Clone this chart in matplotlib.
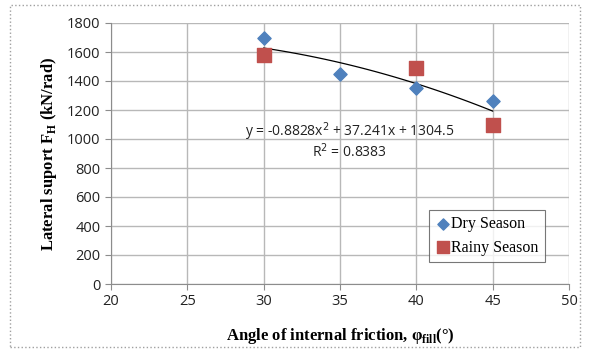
import numpy as np
import matplotlib.pyplot as plt
from matplotlib.patches import Rectangle

# data
dry_x = [30, 35, 40, 45]
dry_y = [1700, 1450, 1350, 1260]
rainy_x = [30, 40, 45]
rainy_y = [1580, 1490, 1100]
trend_coef = [-0.8828, 37.241, 1304.5]  # poly. trendline shown on the chart
trend_range = [30, 45]

x_ticks = [20, 25, 30, 35, 40, 45, 50]
y_ticks = [0, 200, 400, 600, 800, 1000, 1200, 1400, 1600, 1800]

fig = plt.figure(figsize=(5.93, 3.52), dpi=100)
ax = fig.add_axes([111 / 593, 1 - 284 / 352, (569 - 111) / 593, (284 - 23) / 352])

xs = np.linspace(trend_range[0], trend_range[1], 100)
ax.plot(xs, np.polyval(trend_coef, xs), color="black", lw=0.9, zorder=2)
ax.scatter(dry_x, dry_y, marker="D", s=45, color="#4f81bd", label="Dry Season", zorder=3)
ax.scatter(rainy_x, rainy_y, marker="s", s=110, color="#c0504d", label="Rainy Season", zorder=3)

ax.set_xlim(20, 50)
ax.set_ylim(0, 1800)
ax.set_xticks(x_ticks)
ax.set_yticks(y_ticks)
ax.grid(True, color="#b8b8b8", lw=1)
ax.set_axisbelow(True)
for side in ["top", "right"]:
    ax.spines[side].set_visible(False)
for side in ["left", "bottom"]:
    ax.spines[side].set_color("#8c8c8c")
ax.tick_params(colors="#8c8c8c", labelcolor="#222222", labelsize=10.5, length=4)
for lab in ax.get_xticklabels() + ax.get_yticklabels():
    lab.set_family("Open Sans")

ax.text(35.65, 1050, "y = -0.8828x$^2$ + 37.241x + 1304.5", ha="center", va="center",
        fontsize=10, family="Open Sans", color="#222222")
ax.text(35.65, 910, "R$^2$ = 0.8383", ha="center", va="center",
        fontsize=10, family="Open Sans", color="#222222")

ax.set_ylabel("Lateral suport F$_\\mathregular{H}$ (kN/rad)", family="Liberation Serif",
              fontweight="bold", fontsize=12, labelpad=6)
ax.set_xlabel("Angle of internal friction, φ$_\\mathregular{fill}$(°)", family="Liberation Serif",
              fontweight="bold", fontsize=12, labelpad=12)

leg = ax.legend(loc="lower right", bbox_to_anchor=(0.948, 0.084), borderaxespad=0,
                prop={"family": "Liberation Serif", "size": 11.5},
                frameon=True, fancybox=False, edgecolor="#555555", handletextpad=0.0,
                handlelength=1.0, borderpad=0.4, labelspacing=0.45, scatterpoints=1,
                markerscale=0.85)
leg.get_frame().set_linewidth(0.8)

fig.patches.append(Rectangle((10 / 593, 5 / 352), 570 / 593, 342 / 352, transform=fig.transFigure,
                             fill=False, edgecolor="#a0a0a0", lw=1, ls=":"))

fig.savefig("out.png", dpi=100)
